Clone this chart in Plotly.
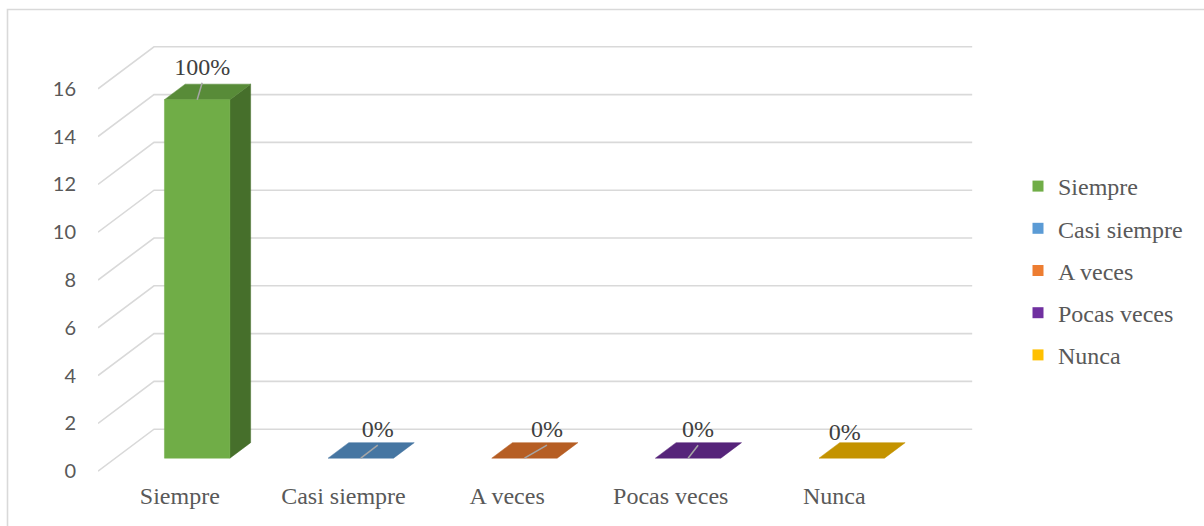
import plotly.graph_objects as go

# ---- data -------------------------------------------------------------
categories = ["Siempre", "Casi siempre", "A veces", "Pocas veces", "Nunca"]
counts = [15, 0, 0, 0, 0]
y_ticks = [0, 2, 4, 6, 8, 10, 12, 14, 16]

# ---- styling ----------------------------------------------------------
base_colors = ["#70AD47", "#5B9BD5", "#ED7D31", "#7030A0", "#FFC000"]
top_colors = ["#588B38", "#4676A2", "#B65E24", "#56247A", "#C49300"]
side_colors = ["#466F2B", "#3A6186", "#97501E", "#461D63", "#A37A00"]

SERIF = "Times New Roman, Liberation Serif, serif"
SANS = "Lato, Calibri, sans-serif"
GRID = "#D9D9D9"

# plot area in pixels and the resulting unit sizes
L, R, T, B = 98, 206, 41, 7
W_PX, H_PX = 1204, 526
X_RANGE = [0, 5.5]
Y_RANGE = [-2, 18]
px_x = (W_PX - L - R) / (X_RANGE[1] - X_RANGE[0])
px_y = (H_PX - T - B) / (Y_RANGE[1] - Y_RANGE[0])

# oblique depth vector (full depth of the floor) in data units
DX = 56 / px_x
DY = 42 / px_y

BAR_W = 0.4          # bar width, in category units
D0, D1 = 0.31, 0.68  # bar depth span (fraction of floor depth)

# label nudges relative to the bar's top-front centre, in pixels
label_dx = [5, 17, 22.5, 10, -7]
label_dy = [31, 27, 27, 27, 24]
show_leader = [True, True, True, True, False]


def proj(x, v, d):
    """Oblique projection of (category pos, value, depth) onto the axes."""
    return x + d * DX, v + d * DY


fig = go.Figure()

# ---- walls: left-side diagonals and back-wall gridlines ---------------
gx, gy = [], []
n_cat = len(categories)
for v in y_ticks:
    for (x, d) in [(0, 0), (0, 1), (n_cat, 1)]:
        px, py = proj(x, v, d)
        gx.append(px)
        gy.append(py)
    gx.append(None)
    gy.append(None)
fig.add_trace(go.Scatter(x=gx, y=gy, mode="lines",
                         line=dict(color=GRID, width=1.6),
                         hoverinfo="skip", showlegend=False))


def add_face(pts, color):
    xs = [p[0] for p in pts] + [pts[0][0]]
    ys = [p[1] for p in pts] + [pts[0][1]]
    fig.add_trace(go.Scatter(x=xs, y=ys, mode="lines", fill="toself",
                             fillcolor=color, line=dict(color=color, width=0.5),
                             hoverinfo="skip", showlegend=False))


# ---- bars -------------------------------------------------------------
for i, v in enumerate(counts):
    x0 = i + 0.5 - BAR_W / 2
    x1 = i + 0.5 + BAR_W / 2
    # right side face
    if v > 0:
        add_face([proj(x1, 0, D0), proj(x1, v, D0),
                  proj(x1, v, D1), proj(x1, 0, D1)], side_colors[i])
    # top face
    add_face([proj(x0, v, D0), proj(x1, v, D0),
              proj(x1, v, D1), proj(x0, v, D1)], top_colors[i])
    # front face
    if v > 0:
        add_face([proj(x0, 0, D0), proj(x1, 0, D0),
                  proj(x1, v, D0), proj(x0, v, D0)], base_colors[i])

# ---- data labels with leader lines ------------------------------------
total = sum(counts)
pct_text = [f"{round(100 * v / total)}%" for v in counts]
lab_x, lab_y = [], []
lead_x, lead_y = [], []
for i, v in enumerate(counts):
    ax, ay = proj(i + 0.5, v, D0)
    tx = ax + label_dx[i] / px_x
    ty = ay + label_dy[i] / px_y
    lab_x.append(tx)
    lab_y.append(ty)
    if show_leader[i]:
        lead_x += [ax, tx, None]
        lead_y += [ay, ty - 14 / px_y, None]

fig.add_trace(go.Scatter(x=lead_x, y=lead_y, mode="lines",
                         line=dict(color="#A6A6A6", width=1.5),
                         hoverinfo="skip", showlegend=False))
fig.add_trace(go.Scatter(x=lab_x, y=lab_y, mode="text", text=pct_text,
                         textposition="middle center",
                         textfont=dict(family=SERIF, size=24, color="#404040"),
                         hoverinfo="skip", showlegend=False, cliponaxis=False))

# ---- category labels on the floor's front edge -------------------------
fig.add_trace(go.Scatter(x=[i + 0.5 for i in range(n_cat)],
                         y=[-27 / px_y] * n_cat,
                         mode="text", text=categories,
                         textposition="middle center",
                         textfont=dict(family=SERIF, size=24, color="#595959"),
                         hoverinfo="skip", showlegend=False, cliponaxis=False))

# ---- legend entries ---------------------------------------------------
for i, name in enumerate(categories):
    fig.add_trace(go.Scatter(x=[None], y=[None], mode="markers", name=name,
                             legendgroup=name,
                             marker=dict(symbol="square", size=11,
                                         color=base_colors[i])))

# outer chart border
fig.add_shape(type="rect", xref="paper", yref="paper",
              x0=(7.5 - L) / (W_PX - L - R), x1=(1215 - L) / (W_PX - L - R),
              y0=-(B + 10) / (H_PX - T - B), y1=1 + (T - 9.5) / (H_PX - T - B),
              line=dict(color="#D9D9D9", width=1.6), layer="below")

fig.update_layout(
    width=W_PX, height=H_PX,
    margin=dict(l=L, r=R, t=T, b=B),
    paper_bgcolor="white", plot_bgcolor="white",
    xaxis=dict(range=X_RANGE, visible=False, fixedrange=True),
    yaxis=dict(range=Y_RANGE, tickvals=y_ticks,
               ticktext=[str(t) for t in y_ticks],
               showgrid=False, zeroline=False, showline=False,
               ticks="outside", ticklen=17, tickcolor="rgba(0,0,0,0)",
               tickfont=dict(family=SANS, size=20, color="#595959"),
               fixedrange=True),
    legend=dict(xref="container", yref="container",
                x=1018 / W_PX, y=1 - 164 / H_PX,
                xanchor="left", yanchor="top",
                font=dict(family=SERIF, size=24, color="#595959"),
                tracegroupgap=8, bgcolor="rgba(0,0,0,0)"),
    showlegend=True,
)

fig.write_html("out.html")
